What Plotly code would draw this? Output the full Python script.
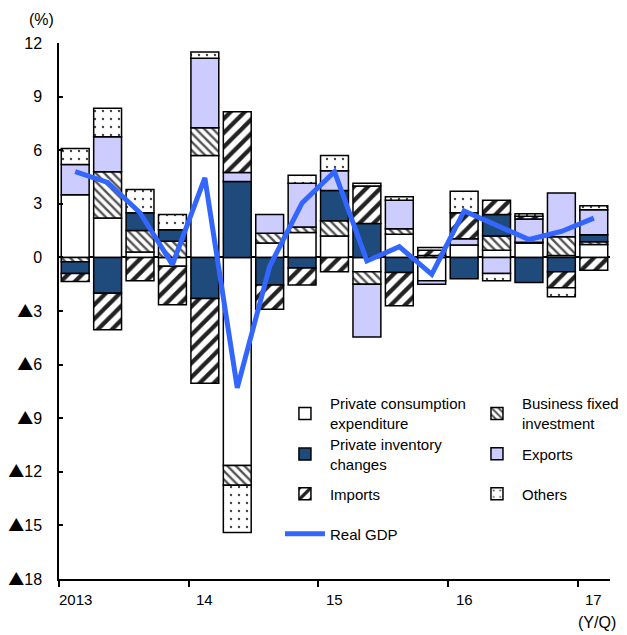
import plotly.graph_objects as go

# Quarters 2013Q1 .. 2017Q1 (numeric positions on the x axis)
quarters = list(range(17))

# Contributions to real GDP growth (annualised q/q, percentage points)
private_consumption = [3.5, 2.2, 0.3, -0.5, 5.7, -11.65, 0.8, 1.4, 1.2, -0.8, 1.3, -1.3, 0.7, 0.4, 0.8, 0.1, 0.72]
business_investment = [-0.25, 2.6, 1.2, 0.9, 1.55, -1.1, 0.55, 0.3, 0.85, -0.7, 0.3, 0.1, None, 0.8, 0.05, 1.05, 0.15]
inventory_changes = [-0.65, -2.0, 1.0, 0.65, -2.3, 4.25, -1.55, -0.6, 1.7, 1.9, -0.85, None, -1.2, 1.2, -1.4, -0.8, 0.4]
exports = [1.7, 1.95, None, None, 3.9, 0.5, 1.05, 2.45, 1.1, -2.95, 1.6, -0.2, 0.35, -0.9, 1.3, 2.45, 1.4]
imports = [-0.45, -2.05, -1.3, -2.15, -4.75, 3.4, -1.35, -0.95, -0.8, 2.1, -1.85, 0.3, 1.45, 0.8, 0.15, -0.9, -0.72]
others = [0.9, 1.6, 1.3, 0.85, 0.35, -2.65, None, 0.45, 0.85, 0.15, 0.2, 0.15, 1.2, -0.4, 0.15, -0.5, 0.22]
real_gdp = [4.8, 4.2, 2.5, -0.4, 4.45, -7.3, -0.5, 3.05, 4.8, -0.2, 0.6, -0.95, 2.6, 1.8, 1.0, 1.45, 2.2]

year_positions = [0, 4, 8, 12, 16]
year_labels = ["2013", "14", "15", "16", "17"]
year_boundaries = [-0.5, 3.5, 7.5, 11.5, 15.5]

y_ticks = [12, 9, 6, 3, 0, -3, -6, -9, -12, -15, -18]
TRI = "<span style='font-family:Noto Sans CJK JP;font-size:16px'>\u25b2</span>"
y_tick_text = [str(v) if v >= 0 else TRI + str(-v) for v in y_ticks]

FONT = "Liberation Sans, Arial, sans-serif"
OUTLINE = dict(color="black", width=1.5)

# legend slots: (column x, row y) in paper coordinates, one legend per entry
COL_X = [0.401, 0.7495]
ROW_Y = [0.309, 0.233, 0.1586, 0.084]

fig = go.Figure()

def add_bar(name, values, color, legend_id, pattern=None):
    marker = dict(color=color, line=OUTLINE)
    if pattern is not None:
        marker["pattern"] = pattern
    fig.add_trace(go.Bar(x=quarters, y=values, name=name, marker=marker,
                         legend=legend_id))

add_bar("Private consumption<br>expenditure", private_consumption, "white", "legend")
add_bar("Business fixed<br>investment", business_investment, "white", "legend2",
        dict(shape="\\", fgcolor="#555555", bgcolor="white", size=6,
             solidity=0.4, fillmode="replace"))
add_bar("Private inventory<br>changes", inventory_changes, "#1f4a7c", "legend3")
add_bar("Exports", exports, "#ccccff", "legend4")
add_bar("Imports", imports, "white", "legend5",
        dict(shape="/", fgcolor="#222222", bgcolor="white", size=10,
             solidity=0.42, fillmode="replace"))
add_bar("Others", others, "white", "legend6",
        dict(shape=".", fgcolor="#444444", bgcolor="white", size=8,
             solidity=0.07, fillmode="replace"))

fig.add_trace(go.Scatter(x=quarters, y=real_gdp, name="Real GDP", mode="lines",
                         line=dict(color="#3366ff", width=5), legend="legend7"))

def legend_box(col, row):
    return dict(x=COL_X[col], y=ROW_Y[row], xanchor="left", yanchor="middle",
                orientation="v", itemwidth=40, bgcolor="rgba(0,0,0,0)",
                font=dict(size=15, family=FONT, color="black"))

annotations = [
    dict(x=x, y=0, xref="x", yref="paper", text=t, showarrow=False,
         yanchor="top", yshift=-10, font=dict(size=15, color="black", family=FONT))
    for x, t in zip(year_positions, year_labels)
]
annotations.append(dict(x=0.976, y=-0.082, xref="paper", yref="paper", text="(Y/Q)",
                        showarrow=False, xanchor="center", yanchor="middle",
                        font=dict(size=16, color="black", family=FONT)))
annotations.append(dict(x=-0.031, y=1.043, xref="paper", yref="paper", text="(%)",
                        showarrow=False, xanchor="center", yanchor="middle",
                        font=dict(size=16, color="black", family=FONT)))

fig.update_layout(
    width=627, height=635,
    margin=dict(l=59, r=17, t=43, b=56, autoexpand=False),
    paper_bgcolor="white", plot_bgcolor="white",
    barmode="relative", bargap=0.14,
    font=dict(family=FONT, size=15, color="black"),
    showlegend=True,
    legend=legend_box(0, 0),
    legend2=legend_box(1, 0),
    legend3=legend_box(0, 1),
    legend4=legend_box(1, 1),
    legend5=legend_box(0, 2),
    legend6=legend_box(1, 2),
    legend7=legend_box(0, 3),
    annotations=annotations,
    xaxis=dict(range=[-0.5, 16.5], tickmode="array", tickvals=year_boundaries,
               ticktext=[""] * len(year_boundaries), ticks="outside", ticklen=6,
               tickwidth=1.5, tickcolor="black", showline=True, linecolor="black",
               linewidth=1.5, showgrid=False, zeroline=False, fixedrange=True),
    yaxis=dict(range=[-18, 12], tickmode="array", tickvals=y_ticks, ticktext=y_tick_text,
               ticks="inside", ticklen=4, tickwidth=1.5, tickcolor="black",
               ticklabelstandoff=12,
               showline=True, linecolor="black", linewidth=1.5, showgrid=False,
               zeroline=True, zerolinecolor="black", zerolinewidth=1.5,
               tickfont=dict(size=16, family=FONT), fixedrange=True),
)

fig.write_html("out.html")
